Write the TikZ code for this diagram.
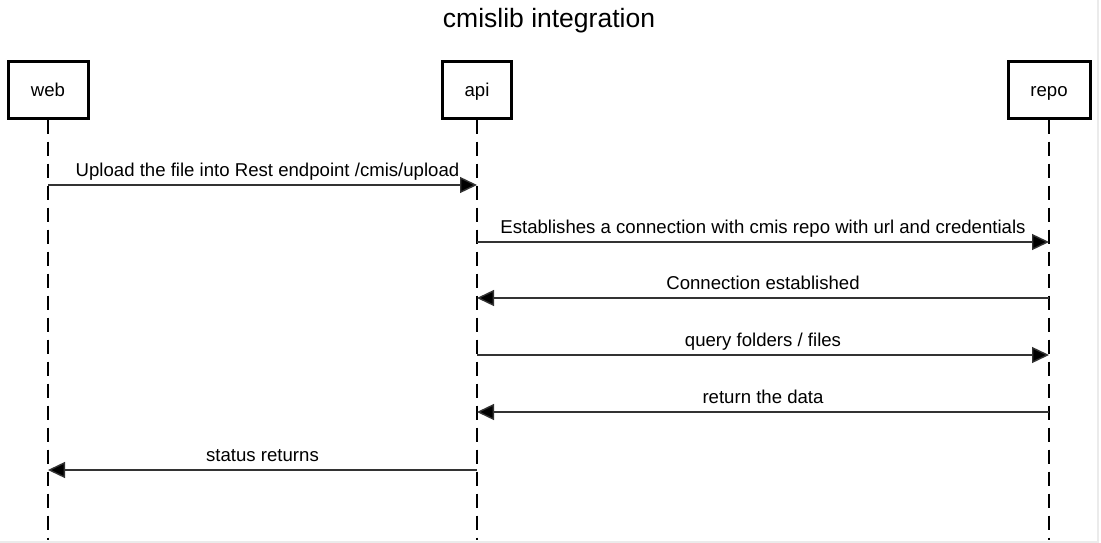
\documentclass[tikz,border=0pt]{standalone}
\usepackage{fontspec}
\setmainfont{Liberation Sans}
\usetikzlibrary{arrows.meta, positioning}

\begin{document}
\begin{tikzpicture}[
    x=1pt, y=-1pt,
    font=\fontsize{18.6}{22}\selectfont,
    actor/.style={draw, line width=3pt, minimum height=56pt, inner sep=0pt, text height=13pt, text depth=0pt},
    life/.style={line width=1.8pt, dash pattern=on 14pt off 8pt},
    msg/.style={line width=1.4pt, draw=black!80, -{Triangle[length=17pt, width=16pt, fill=black]}},
    lbl/.style={anchor=base, yshift=9pt, inner sep=0pt},
]
\useasboundingbox (0,0) rectangle (1101,543);
% Screen edge
\draw[black!8, line width=2pt] (0,542) -- (1098,542) -- (1098,0);

% Title
\node[font=\fontsize{26.5}{30}\selectfont, anchor=base] (title) at (549,28) {cmislib integration};

% Participants
\node[actor, minimum width=80pt] (web)  at (48,90)   {web};
\node[actor, minimum width=69pt] (api)  at (477,90)  {api};
\node[actor, minimum width=82pt] (repo) at (1049,90) {repo};

% Lifelines
\coordinate (bottom) at (0,540);
\foreach \a in {web,api,repo} \draw[life] (\a.south) -- (\a.south |- bottom);

% Message rows
\coordinate (m1) at (0,185);
\coordinate (m2) at (0,242);
\coordinate (m3) at (0,298);
\coordinate (m4) at (0,355);
\coordinate (m5) at (0,412);
\coordinate (m6) at (0,470);

% Messages
\draw[msg] (web |- m1) -- (api |- m1) node[midway, lbl, xshift=5pt] {Upload the file into Rest endpoint /cmis/upload};
\draw[msg] (api |- m2) -- (repo |- m2) node[midway, lbl] {Establishes a connection with cmis repo with url and credentials};
\draw[msg] (repo |- m3) -- (api |- m3) node[midway, lbl] {Connection established};
\draw[msg] (api |- m4) -- (repo |- m4) node[midway, lbl] {query folders / files};
\draw[msg] (repo |- m5) -- (api |- m5) node[midway, lbl] {return the data};
\draw[msg] (api |- m6) -- (web |- m6) node[midway, lbl] {status returns};
\end{tikzpicture}
\end{document}
